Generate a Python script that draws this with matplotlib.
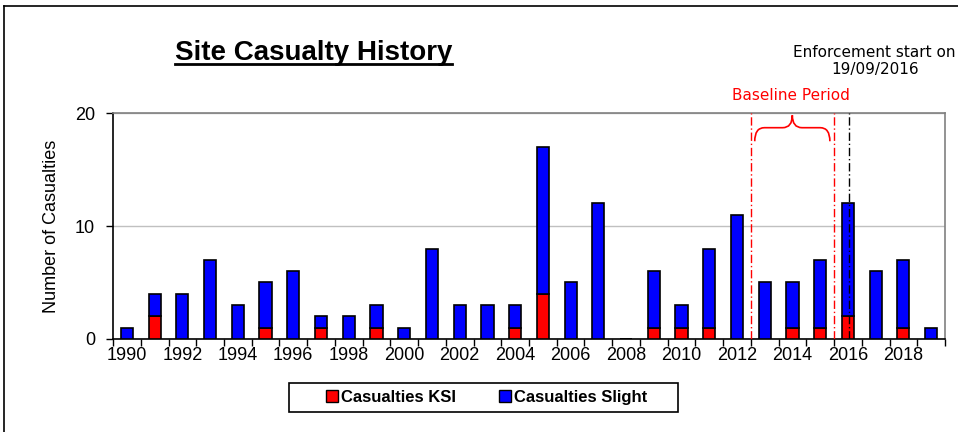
import numpy as np
import matplotlib
matplotlib.use("Agg")
import matplotlib.pyplot as plt
from matplotlib.path import Path
from matplotlib.patches import PathPatch, Rectangle, Patch
from matplotlib.lines import Line2D

years = list(range(1990, 2020))
ksi = [0, 2, 0, 0, 0, 1, 0, 1, 0, 1, 0, 0, 0, 0, 1, 4, 0, 0, 0, 1,
       1, 1, 0, 0, 1, 1, 2, 0, 1, 0]
slight = [1, 2, 4, 7, 3, 4, 6, 1, 2, 2, 1, 8, 3, 3, 2, 13, 5, 12, 0, 5,
          2, 7, 11, 5, 4, 6, 10, 6, 6, 1]
baseline_years = (2013, 2015)
enforcement_year = 2016

plt.rcParams['font.family'] = ['Liberation Sans', 'DejaVu Sans']

fig = plt.figure(figsize=(9.58, 4.32), dpi=100)
ax = fig.add_axes([0.118, 0.2153, 0.8684, 0.5231])

x = np.arange(len(years))
slight_bottom = np.array(ksi)
ax.bar(x, ksi, width=0.44, color="#ff0000", edgecolor="black", linewidth=1.2, zorder=3)
ax.bar(x, slight, width=0.44, bottom=slight_bottom, color="#0000ff",
       edgecolor="black", linewidth=1.2, zorder=3)

ax.set_xlim(-0.5, len(years) - 0.5)
ax.set_ylim(0, 20)
ax.set_yticks([0, 10, 20])
ax.yaxis.grid(True, color="#c0c0c0", linewidth=1)
ax.set_axisbelow(True)

# ticks between categories, labels every other year under the bars
ax.set_xticks(np.arange(-0.5, len(years), 1))
ax.set_xticklabels([])
ax.set_xticks(x[::2], minor=True)
ax.set_xticklabels([str(y) for y in years[::2]], minor=True, fontsize=13)
ax.tick_params(axis="x", which="major", direction="out", length=5, width=1)
ax.tick_params(axis="x", which="minor", length=0, pad=6)
ax.tick_params(axis="y", direction="out", length=5, width=1, labelsize=13, pad=8)

ax.spines["left"].set_color("black")
ax.spines["bottom"].set_color("black")
ax.spines["top"].set_color("#808080")
ax.spines["right"].set_color("#808080")
for s in ax.spines.values():
    s.set_linewidth(1.2)

ax.set_ylabel("Number of Casualties", fontsize=13, labelpad=11)

# baseline period and enforcement lines
b0 = years.index(baseline_years[0]) - 0.5
b1 = years.index(baseline_years[1]) + 0.5
ax.axvline(b0, color="#ff0000", linestyle=(0, (6, 2, 1, 2)), linewidth=1, zorder=4)
ax.axvline(b1, color="#ff0000", linestyle=(0, (6, 2, 1, 2)), linewidth=1, zorder=4)
ax.axvline(years.index(enforcement_year) + 0.05, color="black",
           linestyle=(0, (6, 2, 1, 2)), linewidth=1, zorder=4)

# curly brace over baseline period
x0, x1 = b0 + 0.14, b1 - 0.15
xm = (x0 + x1) / 2
ybot, ymid, ytop = 17.5, 18.7, 19.8
r = 0.35
verts = [(x0, ybot), (x0, ymid), (x0 + r, ymid),
         (xm - r, ymid),
         (xm, ymid), (xm, ytop),
         (xm, ymid), (xm + r, ymid),
         (x1 - r, ymid),
         (x1, ymid), (x1, ybot)]
codes = [Path.MOVETO, Path.CURVE3, Path.CURVE3,
         Path.LINETO,
         Path.CURVE3, Path.CURVE3,
         Path.CURVE3, Path.CURVE3,
         Path.LINETO,
         Path.CURVE3, Path.CURVE3]
ax.add_patch(PathPatch(Path(verts, codes), facecolor="none", edgecolor="#ff0000",
                       linewidth=1.2, zorder=4))

fig.text(0.826, 0.779, "Baseline Period", color="#ff0000", fontsize=11,
         family="DejaVu Sans", ha="center", va="center")
fig.text(0.913, 0.859, "Enforcement start on\n19/09/2016", color="black",
         fontsize=11, family="DejaVu Sans", ha="center", va="center",
         linespacing=1.1)

# title with underline
title = fig.text(0.327, 0.878, "Site Casualty History", fontsize=20,
                 fontweight="bold", ha="center", va="center")
fig.canvas.draw()
bb = title.get_window_extent().transformed(fig.transFigure.inverted())
fig.add_artist(Line2D([bb.x0, bb.x1], [bb.y0 + 0.003, bb.y0 + 0.003],
                      color="black", linewidth=2, transform=fig.transFigure))

# legend with its own frame
fig.add_artist(Rectangle((289 / 958, 1 - 412 / 432), 389 / 958, 29 / 432,
                         transform=fig.transFigure, facecolor="white",
                         edgecolor="black", linewidth=1.2))
handles = [Patch(facecolor="#ff0000", edgecolor="black", label="Casualties KSI"),
           Patch(facecolor="#0000ff", edgecolor="black", label="Casualties Slight")]
fig.legend(handles=handles, loc="center", bbox_to_anchor=(0.508, 1 - 397.5 / 432),
           ncol=2, frameon=False, prop={"weight": "bold", "size": 12},
           handlelength=0.7, handleheight=0.7, handletextpad=0.2,
           columnspacing=2.6)

# outer border (top and left)
fig.add_artist(Line2D([4 / 958, 1], [1 - 6 / 432, 1 - 6 / 432], color="black",
                      linewidth=1.2, transform=fig.transFigure))
fig.add_artist(Line2D([4 / 958, 4 / 958], [0, 1 - 6 / 432], color="black",
                      linewidth=1.2, transform=fig.transFigure))

fig.savefig("out.png", dpi=100)
